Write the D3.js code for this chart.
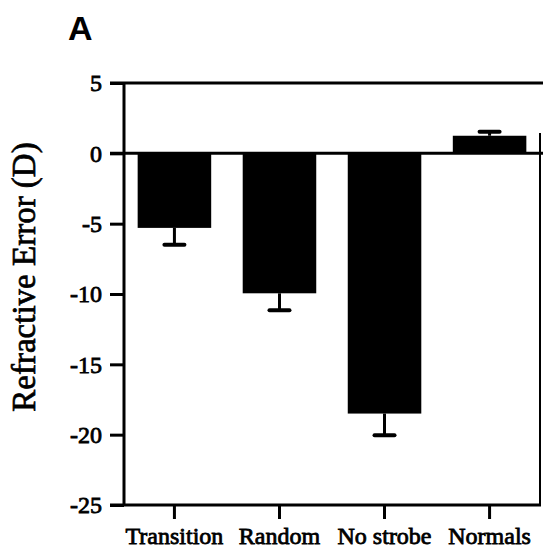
<!DOCTYPE html>
<html><head><meta charset="utf-8">
<script src="https://cdn.jsdelivr.net/npm/d3@7"></script>
<style>body{margin:0;background:#fff}
.serif text{font-family:'Liberation Serif','Times New Roman',serif !important;}</style>
</head><body>
<script>
const categories = ["Transition", "Random", "No strobe", "Normals"];
const values = [-5.3, -9.95, -18.5, 1.25];
const errors = [1.2, 1.2, 1.55, 0.28];
const yTicks = [5, 0, -5, -10, -15, -20, -25];

const W = 543, H = 554;
const serif = "'Liberation Serif', 'Times New Roman', serif";
const svg = d3.select("body").append("svg").attr("width", W).attr("height", H);
const y = d3.scaleLinear().domain([-25, 5]).range([505, 83]);
const x = d3.scaleBand().domain(categories).range([124, 540]).paddingInner(0.3).paddingOuter(0.13);

// frame (right and top)
svg.append("line").attr("x1", 110).attr("x2", 543).attr("y1", y(5)).attr("y2", y(5)).attr("stroke", "#000").attr("stroke-width", 3);
svg.append("line").attr("x1", 540).attr("x2", 540).attr("y1", y(5) + 50).attr("y2", y(-25)).attr("stroke", "#000").attr("stroke-width", 2);

// bars
svg.selectAll("rect.bar").data(values).enter().append("rect")
  .attr("x", (d, i) => x(categories[i]))
  .attr("width", x.bandwidth())
  .attr("y", d => y(Math.max(0, d)))
  .attr("height", d => Math.abs(y(d) - y(0)))
  .attr("fill", "#000");

// error bars
const eg = svg.selectAll("g.err").data(values).enter().append("g");
eg.append("line")
  .attr("x1", (d, i) => x(categories[i]) + x.bandwidth() / 2)
  .attr("x2", (d, i) => x(categories[i]) + x.bandwidth() / 2)
  .attr("y1", d => y(d))
  .attr("y2", (d, i) => y(d + Math.sign(d) * errors[i]))
  .attr("stroke", "#000").attr("stroke-width", 3);
eg.append("line")
  .attr("x1", (d, i) => x(categories[i]) + x.bandwidth() / 2 - 10)
  .attr("x2", (d, i) => x(categories[i]) + x.bandwidth() / 2 + 10)
  .attr("y1", (d, i) => y(d + Math.sign(d) * errors[i]))
  .attr("y2", (d, i) => y(d + Math.sign(d) * errors[i]))
  .attr("stroke", "#000").attr("stroke-width", 4).attr("stroke-linecap", "round");

// zero line
svg.append("line").attr("x1", 110).attr("x2", 543).attr("y1", y(0)).attr("y2", y(0)).attr("stroke", "#000").attr("stroke-width", 3);

// y axis
const ya = svg.append("g").attr("class", "serif").attr("transform", "translate(124,0)")
  .call(d3.axisLeft(y).tickValues(yTicks).tickSize(14).tickPadding(8).tickFormat(d => d < 0 ? "-" + Math.abs(d) : String(d)));
ya.attr("font-family", serif).attr("font-size", 24);
ya.select(".domain").attr("stroke-width", 3).attr("d", `M0,${y(5)}V${y(-25)}`);
ya.selectAll(".tick line").attr("stroke-width", 3);
ya.selectAll(".tick text")
  .style("font-size", "24px").attr("fill", "#000")
  .attr("stroke", "#000").attr("stroke-width", 0.8);

// x axis
const xa = svg.append("g").attr("class", "serif").attr("transform", `translate(0,${y(-25)})`)
  .call(d3.axisBottom(x).tickSize(14).tickPadding(8));
xa.attr("font-family", serif).attr("font-size", 24);
xa.select(".domain").attr("stroke-width", 3).attr("d", "M110,0H541");
xa.selectAll(".tick line").attr("stroke-width", 3);
xa.selectAll(".tick text")
  .style("font-size", "24px").attr("fill", "#000")
  .attr("stroke", "#000").attr("stroke-width", 0.8);

// y title
svg.append("text").attr("transform", "translate(35,277) rotate(-90)")
  .attr("text-anchor", "middle")
  .style("font-family", serif).style("font-size", "33px")
  .attr("stroke", "#000").attr("stroke-width", 0.7)
  .text("Refractive Error (D)");

// panel label
svg.append("text").attr("x", 68).attr("y", 40)
  .style("font-family", "'Liberation Sans', Arial, sans-serif")
  .style("font-weight", "bold").style("font-size", "34px").text("A");
</script>
</body></html>
